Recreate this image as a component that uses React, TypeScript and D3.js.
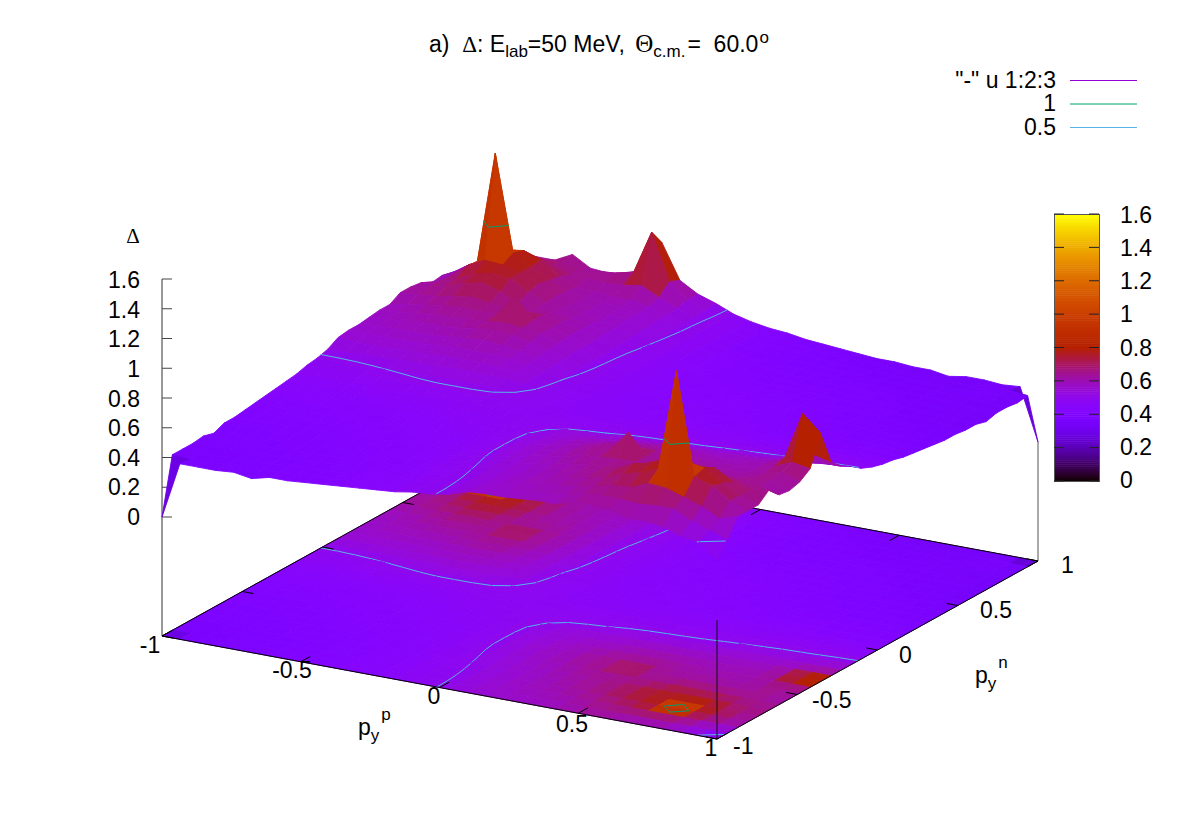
import React from "react";
import * as d3 from "d3";

// Δ values in hundredths; the table is symmetric under p <-> n, so rows hold j = 0..i only.
const deltaRows: number[][] = [
  [0],
  [38, 37],
  [38, 38, 38],
  [38, 38, 38, 39],
  [39, 39, 39, 39, 40],
  [37, 39, 39, 40, 40, 41],
  [40, 40, 40, 40, 41, 41, 42],
  [40, 40, 41, 41, 41, 42, 42, 43],
  [41, 41, 41, 42, 42, 42, 43, 43, 44],
  [42, 42, 42, 42, 43, 43, 43, 44, 44, 45],
  [43, 43, 43, 43, 43, 44, 44, 44, 45, 45, 46],
  [44, 44, 44, 44, 44, 44, 45, 45, 45, 46, 46, 47],
  [45, 45, 45, 45, 45, 45, 45, 46, 46, 46, 47, 47, 47],
  [46, 46, 46, 46, 47, 47, 47, 47, 47, 47, 48, 48, 48, 48],
  [48, 48, 48, 48, 48, 48, 49, 49, 49, 49, 49, 49, 48, 48, 47],
  [49, 49, 49, 49, 50, 50, 51, 51, 51, 51, 51, 49, 49, 48, 47, 46],
  [51, 51, 52, 52, 53, 53, 53, 54, 54, 53, 53, 52, 49, 47, 47, 46, 46],
  [55, 54, 54, 54, 55, 55, 56, 56, 56, 55, 54, 53, 49, 48, 47, 46, 46, 45],
  [56, 56, 56, 56, 56, 57, 58, 58, 58, 57, 55, 53, 49, 48, 47, 46, 45, 45, 45],
  [56, 57, 58, 58, 58, 59, 60, 61, 60, 58, 56, 54, 51, 48, 47, 46, 45, 45, 44, 44],
  [57, 58, 59, 60, 60, 61, 63, 64, 63, 60, 57, 54, 51, 48, 47, 46, 45, 44, 44, 44, 44],
  [58, 59, 60, 62, 62, 63, 64, 65, 64, 62, 58, 55, 51, 49, 47, 46, 45, 44, 44, 43, 43, 43],
  [58, 60, 62, 64, 65, 64, 65, 79, 65, 62, 59, 55, 51, 49, 47, 46, 45, 44, 43, 43, 43, 42, 42],
  [62, 63, 64, 66, 68, 66, 65, 65, 65, 62, 59, 55, 52, 49, 47, 46, 45, 44, 43, 42, 42, 42, 41, 41],
  [62, 64, 67, 71, 74, 70, 64, 63, 62, 61, 59, 56, 52, 50, 47, 46, 44, 43, 42, 42, 41, 41, 41, 40, 40],
  [61, 64, 68, 74, 76, 75, 68, 63, 62, 60, 58, 56, 53, 50, 48, 46, 44, 43, 42, 41, 41, 40, 40, 40, 39, 39],
  [57, 63, 73, 79, 78, 75, 70, 64, 61, 60, 58, 57, 53, 50, 48, 46, 44, 43, 42, 41, 40, 40, 39, 39, 39, 38, 38],
  [58, 64, 72, 147, 82, 75, 68, 63, 61, 60, 59, 57, 54, 51, 48, 46, 44, 42, 41, 40, 40, 39, 39, 38, 38, 38, 37, 37],
  [56, 64, 68, 78, 80, 76, 67, 62, 61, 60, 60, 58, 54, 51, 48, 46, 44, 42, 41, 40, 39, 39, 38, 38, 37, 37, 37, 37, 36],
  [52, 58, 64, 74, 72, 69, 64, 64, 63, 64, 66, 60, 55, 51, 48, 46, 44, 42, 41, 40, 39, 38, 38, 37, 37, 36, 36, 36, 36, 36],
  [50, 54, 58, 66, 66, 66, 64, 65, 66, 69, 98, 67, 57, 52, 48, 46, 44, 42, 41, 39, 38, 38, 37, 37, 36, 36, 36, 35, 35, 37, 36],
  [40, 50, 62, 62, 62, 68, 61, 60, 62, 67, 87, 64, 57, 53, 48, 45, 43, 42, 40, 39, 38, 37, 36, 36, 35, 35, 33, 35, 35, 34, 35, 0],
];

const pTicks = [-1, -0.5, 0, 0.5, 1];
const nTicks = [-1, -0.5, 0, 0.5, 1];
const zTicks = [0, 0.2, 0.4, 0.6, 0.8, 1, 1.2, 1.4, 1.6];
const contourLevels = [
  { level: 0.5, color: "#56b4e9", smooth: true },
  { level: 1, color: "#009e73", smooth: false },
];
const keyEntries = [
  { label: '"-" u 1:2:3', color: "#9400d3", y: 80.5 },
  { label: "1", color: "#009e73", y: 104 },
  { label: "0.5", color: "#56b4e9", y: 127.5 },
];

const SANS = "'Liberation Sans', Arial, sans-serif";
const SERIF = "'Liberation Serif', serif";
const FS = 23;
const FS_SUB = 17;

const N = deltaRows.length;
const Z = (i: number, j: number) => (i >= j ? deltaRows[i][j] : deltaRows[j][i]) / 100;

// Same values read through a 1-2-1 kernel, so the 0.5 contour does not pick up the rounding of the table
const clampI = (k: number) => Math.max(0, Math.min(N - 1, k));
const kernel = [1, 2, 1];
const W = (i: number, j: number) => {
  let s = 0;
  for (let a = -1; a <= 1; a++)
    for (let b = -1; b <= 1; b++) s += kernel[a + 1] * kernel[b + 1] * Z(clampI(i + a), clampI(j + b));
  return s / 16;
};

// Orthographic gnuplot view: three scales added together
const idx = d3.scaleLinear().domain([0, N - 1]).range([-1, 1]);
const pX = d3.scaleLinear().domain([-1, 1]).range([0, 555]);
const pY = d3.scaleLinear().domain([-1, 1]).range([0, 103]);
const nX = d3.scaleLinear().domain([-1, 1]).range([0, 321]);
const nY = d3.scaleLinear().domain([-1, 1]).range([0, -178]);
const zY = d3.scaleLinear().domain([0, 1.6]).range([517, 279]);
const zLabelY = d3.scaleLinear().domain([0, 1.6]).range([525, 288]);
const BASE_Y = 636;
const X0 = 162;

type Pt = [number, number];
const project = (p: number, n: number, z: number | null): Pt => [
  X0 + pX(p) + nX(n),
  (z === null ? BASE_Y : zY(z)) + pY(p) + nY(n),
];

const cb = d3.scaleLinear().domain([0, 1.6]).range([0, 1]).clamp(true);
const palette = (v: number) => {
  const x = cb(v);
  const r = Math.sqrt(x);
  const g = x * x * x;
  const b = Math.max(0, Math.sin(2 * Math.PI * x));
  return d3.rgb(r * 255, g * 255, b * 255).formatHex();
};

const closed = d3.line<Pt>().curve(d3.curveLinearClosed);
const open = d3.line<Pt>();

// one cell's contour pieces, in index coordinates
function cellSegments(i: number, j: number, lev: number, f: (a: number, b: number) => number): [number, number][][] {
  const corners: [number, number][] = [
    [i, j],
    [i + 1, j],
    [i + 1, j + 1],
    [i, j + 1],
  ];
  const hits: [number, number][] = [];
  for (let k = 0; k < 4; k++) {
    const [a, b] = [corners[k], corners[(k + 1) % 4]];
    const za = f(a[0], a[1]);
    const zb = f(b[0], b[1]);
    if (za < lev !== zb < lev) {
      const t = (lev - za) / (zb - za);
      hits.push([a[0] + t * (b[0] - a[0]), a[1] + t * (b[1] - a[1])]);
    }
  }
  if (hits.length === 2) return [[hits[0], hits[1]]];
  if (hits.length === 4) return [[hits[0], hits[1]], [hits[2], hits[3]]];
  return [];
}

function layer(onBase: boolean) {
  const out: React.ReactNode[] = [];
  const P = (a: number, b: number): Pt => project(idx(a), idx(b), onBase ? null : Z(a, b));
  const C = (a: number, b: number, lev: number): Pt => project(idx(a), idx(b), onBase ? null : lev);
  for (let i = 0; i < N - 1; i++) {
    for (let j = N - 2; j >= 0; j--) {
      const mean = (Z(i, j) + Z(i + 1, j) + Z(i + 1, j + 1) + Z(i, j + 1)) / 4;
      const col = palette(mean);
      out.push(
        <path
          key={`q${i}-${j}`}
          d={closed([P(i, j), P(i + 1, j), P(i + 1, j + 1), P(i, j + 1)]) as string}
          fill={col}
          stroke={col}
          strokeWidth={0.9}
          strokeLinejoin="round"
        />
      );
      contourLevels.forEach((c) => {
        cellSegments(i, j, c.level, c.smooth ? W : Z).forEach((s, k) => {
          out.push(
            <path
              key={`c${i}-${j}-${c.level}-${k}`}
              d={open([C(s[0][0], s[0][1], c.level), C(s[1][0], s[1][1], c.level)]) as string}
              fill="none"
              stroke={c.color}
              strokeWidth={1}
              strokeLinecap="round"
            />
          );
        });
      });
    }
  }
  return out;
}

const Seg = ({ a, b, w = 1, c = "#000" }: { a: Pt; b: Pt; w?: number; c?: string }) => (
  <line x1={a[0]} y1={a[1]} x2={b[0]} y2={b[1]} stroke={c} strokeWidth={w} />
);

const T = (props: any) => (
  <text fontFamily={SANS} fontSize={FS} fill="#000" style={{ whiteSpace: "pre" }} {...props} />
);

const pLabelPos: Pt[] = [[150, 653], [292, 678], [434, 704], [572, 732], [711, 756]];
const nLabelPos: Pt[] = [[733, 754], [812, 708], [899, 663], [980, 618], [1061, 573]];
const cbTop = 214;
const cbBottom = 481;
const cbY = d3.scaleLinear().domain([0, 1.6]).range([cbBottom, cbTop]);
const cbLabelY = d3.scaleLinear().domain([0, 1.6]).range([488, 223]);
const cbLevels = d3.range(0, 128);

export default function App() {
  return (
    <svg
      width={1200}
      height={840}
      style={{ position: "absolute", left: 0, top: 0, background: "#fff" }}
    >
      {/* base map */}
      <g>{layer(true)}</g>

      {/* base border, verticals and ticks */}
      <Seg a={project(-1, -1, null)} b={project(1, -1, null)} />
      <Seg a={project(1, -1, null)} b={project(1, 1, null)} />
      <Seg a={project(1, 1, null)} b={project(-1, 1, null)} />
      <Seg a={project(-1, 1, null)} b={project(-1, -1, null)} />
      <Seg a={[X0, BASE_Y]} b={[X0, zY(1.6)]} c="#333" />
      <Seg a={project(1, 1, null)} b={project(1, 1, 0)} c="#555" />
      <Seg a={project(1, -1, null)} b={project(1, -1, 0)} c="#111" />
      {zTicks.map((t) => (
        <Seg key={t} a={[X0, zY(t)]} b={[X0 + 10, zY(t)]} c="#444" />
      ))}
      {pTicks.map((t) => (
        <g key={t}>
          <Seg a={project(t, -1, null)} b={project(t, -0.94, null)} />
          <Seg a={project(t, 1, null)} b={project(t, 0.94, null)} />
        </g>
      ))}
      {nTicks.map((t) => (
        <g key={t}>
          <Seg a={project(1, t, null)} b={project(0.96, t, null)} />
          <Seg a={project(-1, t, null)} b={project(-0.96, t, null)} />
        </g>
      ))}

      {/* surface */}
      <g>{layer(false)}</g>

      {/* title */}
      <T x={429} y={52}>
        a)  <tspan fontFamily={SERIF}>Δ</tspan>: E
        <tspan fontSize={FS_SUB} dy={5}>lab</tspan>
        <tspan dy={-5}>=50 MeV, </tspan>
        <tspan fontFamily={SERIF} fontSize={25} dx={4}>Θ</tspan>
        <tspan fontSize={FS_SUB} dy={5}>c.m.</tspan>
        <tspan dy={-5} dx={2}>=  60.0</tspan>
        <tspan fontSize={FS_SUB} dy={-9} dx={1}>o</tspan>
      </T>

      {/* z ticks */}
      {zTicks.map((t) => (
        <T key={t} x={140} y={zLabelY(t)} textAnchor="end">{String(t)}</T>
      ))}
      <text x={133} y={243} fontFamily={SERIF} fontSize={21} textAnchor="middle">Δ</text>

      {/* p, n tick labels */}
      {pTicks.map((t, k) => (
        <T key={t} x={pLabelPos[k][0]} y={pLabelPos[k][1]} textAnchor="middle">{String(t)}</T>
      ))}
      {nTicks.map((t, k) => (
        <T key={t} x={nLabelPos[k][0]} y={nLabelPos[k][1]}>{String(t)}</T>
      ))}

      {/* axis labels */}
      <T x={358} y={735}>
        p<tspan fontSize={FS_SUB} dy={6}>y</tspan>
        <tspan fontSize={FS_SUB} dy={-21} dx={2}>p</tspan>
      </T>
      <T x={975} y={683}>
        p<tspan fontSize={FS_SUB} dy={6}>y</tspan>
        <tspan fontSize={FS_SUB} dy={-21} dx={2}>n</tspan>
      </T>

      {/* key */}
      {keyEntries.map((k) => (
        <g key={k.label}>
          <T x={1056} y={Math.round(k.y) + 7} textAnchor="end">{k.label}</T>
          <Seg a={[1070, k.y]} b={[1137, k.y]} c={k.color} />
        </g>
      ))}

      {/* colour box */}
      {cbLevels.map((l) => {
        const lo = (l / cbLevels.length) * 1.6;
        const hi = ((l + 1) / cbLevels.length) * 1.6;
        return (
          <rect
            key={l}
            x={1054}
            y={cbY(hi)}
            width={45}
            height={cbY(lo) - cbY(hi) + 0.5}
            fill={palette((lo + hi) / 2)}
          />
        );
      })}
      <rect x={1054.5} y={214.5} width={45} height={267} fill="none" stroke="#555" />
      {zTicks.map((t) => (
        <g key={t}>
          <Seg a={[1054, cbY(t)]} b={[1064, cbY(t)]} c="#222" />
          <Seg a={[1089, cbY(t)]} b={[1099, cbY(t)]} c="#222" />
          <T x={1120} y={cbLabelY(t)}>{String(t)}</T>
        </g>
      ))}
    </svg>
  );
}
